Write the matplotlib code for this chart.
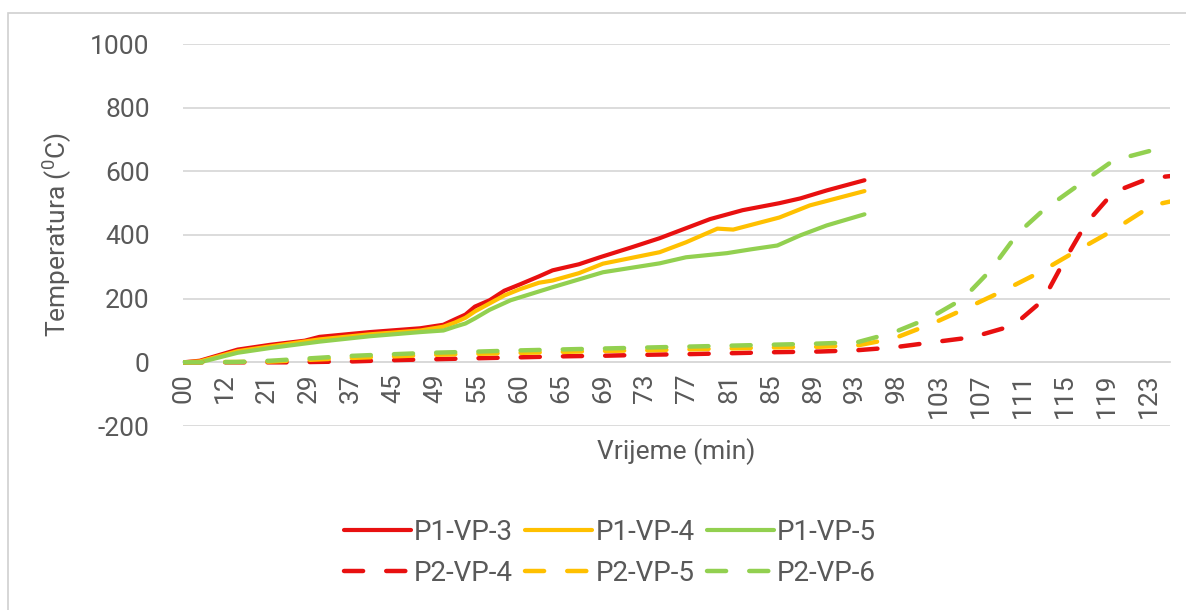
import matplotlib.pyplot as plt
from matplotlib.patches import Rectangle

plt.rcParams['font.family'] = ['Roboto', 'DejaVu Sans']
plt.rcParams['axes.unicode_minus'] = False

# category labels shown every 4th sample
tick_labels = ['00', '12', '21', '29', '37', '45', '49', '55', '60', '65', '69', '73',
               '77', '81', '85', '89', '93', '98', '103', '107', '111', '115', '119', '123']

# (sample index, temperature)
p1_vp3_x = [0, 1.6, 5.2, 8.3, 11.6, 13.0, 17.8, 22.6, 24.8, 25.9, 26.9, 27.8, 29.2, 30.6,
            32.1, 33.9, 35.2, 37.7, 39.7, 42.6, 45.4, 48.2, 50.2, 53.3, 56.8, 58.8, 61.3, 64.9]
p1_vp3_y = [0, 5, 40, 55, 68, 80, 95, 107, 118, 135, 150, 175, 195, 225,
            245, 270, 289, 308, 330, 360, 390, 425, 450, 478, 500, 515, 540, 572]

p1_vp4_x = [0, 1.6, 5.2, 8.3, 13.0, 17.8, 22.6, 24.8, 25.9, 26.9, 27.8, 29.2, 30.6,
            32.1, 33.9, 35.2, 37.7, 40.0, 45.4, 47.9, 50.9, 52.4, 56.8, 59.7, 64.9]
p1_vp4_y = [0, 3, 35, 50, 72, 88, 100, 112, 125, 140, 160, 185, 210,
            230, 250, 257, 280, 310, 346, 377, 420, 417, 455, 493, 538]

p1_vp5_x = [0, 1.6, 5.2, 8.3, 13.0, 17.8, 22.6, 24.8, 25.9, 26.9, 27.8, 29.2, 31.2,
            35.2, 40.0, 45.4, 47.9, 51.8, 54.1, 56.6, 58.8, 61.3, 64.9]
p1_vp5_y = [0, 0, 30, 45, 65, 82, 95, 100, 112, 122, 138, 165, 195,
            236, 283, 311, 330, 343, 355, 367, 399, 430, 465]

p2_vp4_x = [0, 10.1, 16.2, 20.2, 24.3, 28.3, 32.4, 36.4, 40.5, 44.5, 48.5, 52.6, 56.6, 60.7, 64.2,
            67.7, 71.4, 75.2, 79.1, 81.9, 83.8, 86.0, 88.6, 92.0, 94]
p2_vp4_y = [0, 0, 3, 7, 10, 13, 16, 19, 21, 24, 26, 29, 32, 34, 38,
            47, 63, 79, 116, 195, 311, 436, 534, 578, 585]

p2_vp5_x = [0, 8.1, 12.1, 16.2, 20.2, 24.3, 28.3, 32.4, 36.4, 40.5, 44.5, 48.5, 52.6, 56.6, 60.7, 64.2,
            67.7, 71.6, 74.6, 78.2, 81.6, 85.2, 88.6, 92.3, 94]
p2_vp5_y = [0, 2, 8, 14, 19, 24, 27, 30, 33, 36, 38, 41, 44, 47, 49, 53,
            75, 125, 170, 226, 283, 352, 415, 493, 505]

p2_vp6_x = [0, 1.6, 5.1, 8.3, 11.8, 15.8, 19.6, 23.6, 27.3, 31.4, 35.4, 39.4, 43.5, 47.5, 51.6, 55.6,
            59.7, 64.2, 67.7, 71.2, 74.3, 76.9, 79.5, 81.9, 85.5, 88.6, 92.3, 94]
p2_vp6_y = [0, 0, 1, 5, 12, 20, 25, 30, 33, 37, 40, 43, 46, 49, 52, 55,
            58, 63, 94, 141, 200, 289, 405, 477, 562, 634, 666, 670]

red = '#E81010'
yellow = '#FFC000'
green = '#92D050'
grid_c = '#D9D9D9'
text_c = '#595959'

fig = plt.figure(figsize=(11.86, 6.10), dpi=100)
fig.patches.append(Rectangle((8 / 1186, -0.1), 1.2, (1 - 13 / 610) + 0.1, transform=fig.transFigure,
                             fill=False, edgecolor='#D0D0D0', linewidth=1.2))
ax = fig.add_axes([183 / 1186, 1 - 426 / 610, (1170 - 183) / 1186, (426 - 44) / 610])

# axis line sits at 0, like the Excel category axis
for s in ['top', 'right', 'left']:
    ax.spines[s].set_visible(False)
ax.spines['bottom'].set_position(('data', 0))
ax.spines['bottom'].set_color(grid_c)
ax.spines['bottom'].set_linewidth(1.3)

lw_s = 3.0
lw_d = 3.2
dash = (0, (4.3, 5.2))
h1, = ax.plot(p1_vp3_x, p1_vp3_y, color=red, lw=lw_s, solid_capstyle='round', label='P1-VP-3', zorder=3)
h2, = ax.plot(p1_vp4_x, p1_vp4_y, color=yellow, lw=lw_s, solid_capstyle='round', label='P1-VP-4', zorder=3)
h3, = ax.plot(p1_vp5_x, p1_vp5_y, color=green, lw=lw_s, solid_capstyle='round', label='P1-VP-5', zorder=3)
h4, = ax.plot(p2_vp4_x, p2_vp4_y, color=red, lw=lw_d, ls=dash, dash_capstyle='round', label='P2-VP-4', zorder=3)
h5, = ax.plot(p2_vp5_x, p2_vp5_y, color=yellow, lw=lw_d, ls=dash, dash_capstyle='round', label='P2-VP-5', zorder=3)
h6, = ax.plot(p2_vp6_x, p2_vp6_y, color=green, lw=lw_d, ls=dash, dash_capstyle='round', label='P2-VP-6', zorder=3)

ax.set_xlim(0, 94)
ax.set_ylim(-200, 1000)
ax.set_yticks(range(-200, 1001, 200))
ax.set_xticks(range(0, 4 * len(tick_labels), 4))
ax.set_xticklabels(tick_labels)
ax.grid(axis='y', color=grid_c, lw=1.3)
ax.set_axisbelow(True)
ax.tick_params(axis='y', length=0, pad=24, labelsize=19, labelcolor=text_c)
ax.tick_params(axis='x', length=0, pad=8, labelsize=19, labelcolor=text_c, labelrotation=90)
for t in ax.get_xticklabels():
    t.set_ha('center')
    t.set_va('top')

fig.text(676 / 1186, 1 - 452 / 610, 'Vrijeme (min)', ha='center', va='center', fontsize=19, color=text_c)
fig.text(57 / 1186, 1 - 235 / 610, 'Temperatura ($\\mathregular{^0}$C)', ha='center', va='center',
         rotation=90, fontsize=19, color=text_c)

# legend filled column by column, so interleave to get rows P1 / P2
fig.legend([h1, h4, h2, h5, h3, h6], ['P1-VP-3', 'P2-VP-4', 'P1-VP-4', 'P2-VP-5', 'P1-VP-5', 'P2-VP-6'],
           loc='center', bbox_to_anchor=(610 / 1186, 1 - 553 / 610), ncol=3, frameon=False,
           fontsize=20, labelcolor=text_c, handlelength=2.4, handletextpad=0.12,
           columnspacing=0.45, labelspacing=0.5)

fig.savefig('out.png', dpi=100)
